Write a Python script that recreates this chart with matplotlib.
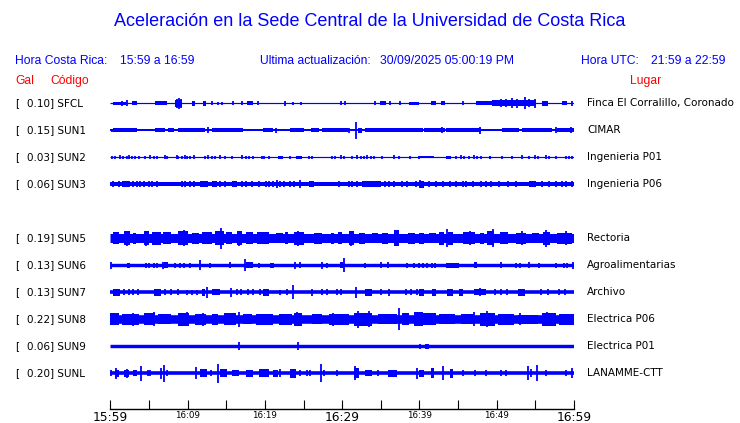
import matplotlib
matplotlib.use('Agg')
import matplotlib.pyplot as plt
from matplotlib import transforms

# Station table
codes = ['SFCL', 'SUN1', 'SUN2', 'SUN3', 'SUN5', 'SUN6', 'SUN7', 'SUN8', 'SUN9', 'SUNL']
gal = [0.10, 0.15, 0.03, 0.06, 0.19, 0.13, 0.13, 0.22, 0.06, 0.20]
places = ['Finca El Corralillo, Coronado', 'CIMAR', 'Ingenieria P01', 'Ingenieria P06',
          'Rectoria', 'Agroalimentarias', 'Archivo', 'Electrica P06', 'Electrica P01',
          'LANAMME-CTT']

# time axis, minutes after 15:59
tick_minutes = list(range(0, 61, 5))
tick_labels = ['15:59', '', '16:09', '', '16:19', '', '16:29', '', '16:39', '', '16:49', '', '16:59']
big_labels = ['15:59', '16:29', '16:59']

# Trace envelopes (half amplitude, screen px)
# base = quiet level, bursts = (start min, end min, half), spikes = (min, half)
base_amp = [0.5, 1.0, 0.5, 2.0, 4.5, 1.7, 1.8, 4.3, 1.7, 1.8]

sfcl_bursts = [(0.3, 2.0, 1.5), (2.8, 3.5, 2), (5.8, 7.4, 2), (8.4, 9.3, 3.5), (10.6, 11.0, 2.5),
               (12.0, 12.4, 2.5), (17.7, 18.4, 2), (34.9, 35.7, 2), (38.7, 40.0, 1.5),
               (41.5, 42.2, 2), (42.8, 43.3, 2), (47.3, 49.4, 2), (49.4, 55.1, 3),
               (55.9, 56.7, 2.5), (58.5, 59.1, 2)]
sfcl_spikes = [(1.5, 2.5), (2.2, 3), (8.6, 4.5), (8.85, 5.5), (9.1, 4.5), (13.2, 2), (13.9, 1.5),
               (14.5, 1.5), (15.9, 2), (17.0, 2), (19.1, 2), (22.6, 2.5), (23.6, 1.5), (24.7, 1.5),
               (29.9, 2), (30.4, 2), (34.3, 2), (36.2, 2), (37.5, 2), (45.6, 2), (50.5, 4),
               (51.2, 4), (52.0, 5), (52.6, 4.5), (53.6, 6), (54.2, 4), (54.9, 4.5), (59.8, 2.5)]

sun1_bursts = [(0.3, 3.5, 2), (5.8, 7.1, 2), (7.5, 8.2, 2), (8.7, 12.3, 2), (13.2, 17.2, 2),
               (19.7, 21.0, 2), (23.2, 25.1, 2), (26.0, 27.0, 2), (27.4, 30.7, 2), (32.0, 32.6, 2.5),
               (33.0, 40.4, 2), (40.6, 43.3, 2), (43.5, 48.0, 2), (50.7, 52.9, 2), (53.3, 57.2, 2),
               (57.8, 60.0, 2)]
sun1_spikes = [(0.2, 1.5), (12.7, 3), (21.5, 2.5), (30.9, 2.5), (31.8, 8.5), (42.9, 3),
               (47.9, 3.5), (57.7, 3), (59.6, 3)]

sun2_bursts = [(21.7, 22.3, 1.5), (24.0, 24.8, 1.5), (40.0, 41.9, 1.2), (43.4, 44.1, 1.5),
               (49.0, 49.2, 1.5)]
sun2_spikes = [(0.2, 1.5), (0.65, 1.5), (1.3, 2), (1.7, 1.5), (2.2, 1.5), (2.4, 2), (2.8, 1.5),
               (3.2, 1.5), (3.7, 1.5), (4.5, 1.5), (5.2, 2), (5.6, 1.5), (6.0, 1.5), (7.1, 2),
               (7.3, 1.5), (8.6, 2), (8.8, 1.5), (9.3, 1.5), (9.7, 2), (9.9, 1.5), (10.3, 1.5),
               (10.8, 2), (12.3, 1.5), (12.7, 2), (13.2, 1.5), (13.6, 1.5), (14.2, 2), (14.9, 1.5),
               (15.7, 1.5), (17.0, 2), (17.5, 1.5), (17.9, 1.5), (18.5, 1.5), (19.6, 1.5),
               (19.9, 1.5), (20.5, 1.5), (23.3, 1.5), (25.7, 1.5), (26.1, 1.5), (28.7, 1.5),
               (29.1, 1.5), (29.8, 2), (30.2, 1.5), (31.3, 1.5), (31.95, 2), (32.4, 1.5),
               (32.8, 1.5), (33.2, 2), (33.7, 1.5), (34.1, 1.5), (35.2, 1.5), (36.7, 2),
               (37.3, 1.5), (38.8, 1.5), (39.9, 1.5), (44.7, 1.5), (45.4, 2), (45.8, 1.5),
               (46.4, 1.5), (47.1, 2), (47.5, 1.5), (48.0, 1.5), (50.7, 1.5), (52.0, 1.5),
               (53.3, 2), (54.2, 1.5), (54.9, 2), (55.3, 1.5), (56.4, 2), (56.8, 1.5), (57.7, 1.5),
               (59.0, 1.5), (59.4, 1.5), (59.8, 1.5)]

sun3_bursts = [(1.5, 2.6, 3), (11.6, 12.7, 3), (13.2, 13.8, 3), (15.7, 16.4, 3), (25.7, 26.4, 3),
               (32.6, 35.0, 3), (40.0, 40.6, 3.5), (54.2, 55.1, 3)]
sun3_spikes = [(0.4, 3), (1.1, 3), (3.0, 3), (3.45, 3), (3.9, 3), (4.3, 3), (4.95, 3), (5.4, 3),
               (6.0, 3), (9.3, 3), (9.7, 3), (10.3, 3), (10.8, 3), (14.2, 3), (14.9, 3), (17.0, 3),
               (17.5, 3), (18.3, 3), (19.2, 3), (20.1, 3), (20.5, 3), (21.0, 3), (21.6, 4),
               (22.0, 3), (22.5, 3), (23.3, 3), (23.8, 3), (24.6, 4), (29.6, 3), (30.9, 3),
               (31.3, 3), (31.95, 3), (35.6, 3), (36.1, 3), (36.7, 3), (37.8, 3), (38.4, 3),
               (39.5, 3), (40.1, 4), (41.3, 3), (42.1, 3), (43.0, 3), (43.9, 3), (44.7, 3),
               (45.6, 3), (46.0, 3), (46.9, 3), (48.0, 3), (48.6, 3), (49.2, 3), (50.3, 3),
               (51.4, 3), (52.5, 3), (55.9, 3), (56.8, 3), (57.7, 3), (58.5, 3), (59.0, 3),
               (59.8, 3)]

sun5_bursts = [(0.3, 1.1, 6), (1.8, 2.6, 7), (3.0, 3.3, 5.5), (4.3, 5.0, 7), (5.4, 6.5, 6.5),
               (6.8, 7.9, 6), (8.7, 10.0, 7), (10.6, 11.5, 5.5), (11.9, 13.2, 6), (13.6, 14.7, 7),
               (15.0, 15.7, 6), (16.4, 17.0, 7), (17.5, 18.4, 6), (19.0, 20.5, 6), (21.4, 22.3, 5),
               (22.6, 23.0, 6), (23.8, 25.1, 6.5), (26.3, 27.4, 5.5), (28.5, 29.0, 5.5),
               (29.5, 30.0, 6), (30.9, 31.5, 7), (32.2, 33.0, 5.5), (33.9, 34.6, 5),
               (35.2, 35.9, 5.5), (36.7, 37.3, 8), (38.5, 39.4, 5.5), (40.0, 40.6, 5.5),
               (41.2, 42.1, 5), (42.5, 43.2, 6.5), (43.7, 44.4, 6.5), (45.6, 47.2, 6),
               (47.8, 48.3, 5.5), (48.8, 49.7, 7), (50.4, 51.4, 6), (52.5, 53.8, 5.5),
               (54.6, 55.5, 5), (56.0, 56.9, 6.5), (57.8, 59.8, 5.5)]
sun5_spikes = [(2.2, 7.5), (4.6, 7.5), (9.5, 8), (14.3, 10.5), (16.7, 7.5), (24.3, 7.5),
               (31.2, 7.5), (37.0, 7.5), (43.6, 9), (46.5, 7), (49.5, 9), (53.3, 7), (56.4, 8.5),
               (59.0, 7)]

sun6_bursts = [(2.2, 2.6, 2.5), (6.9, 7.5, 3), (17.6, 18.4, 3), (20.7, 21.2, 2.5), (29.7, 30.1, 3),
               (43.4, 45.1, 2.3), (47.1, 47.5, 3)]
sun6_spikes = [(0.1, 3.5), (2.4, 2.5), (4.6, 2.5), (5.0, 2.5), (5.6, 2.5), (6.0, 2.5), (6.8, 3.5),
               (8.4, 2.5), (9.0, 2.5), (9.6, 2.5), (10.3, 2.5), (11.6, 5), (12.9, 2.5), (15.5, 3),
               (17.4, 6), (19.2, 2.5), (23.9, 3.5), (24.6, 3), (27.4, 3.5), (28.0, 2.5), (30.3, 7),
               (32.9, 2.5), (35.0, 3), (35.9, 3), (38.4, 2.5), (39.3, 2.5), (40.0, 2.5),
               (40.5, 2.5), (41.0, 2.5), (41.6, 2.5), (42.0, 2.5), (50.6, 3), (52.5, 2.5),
               (53.0, 2.5), (54.2, 3), (55.5, 2.5), (57.7, 2.5), (58.7, 2.5), (59.1, 2.5),
               (59.9, 3.5)]

sun7_bursts = [(0.3, 1.3, 3.5), (5.6, 6.5, 3.5), (11.9, 12.3, 3.5), (13.2, 14.2, 3),
               (19.7, 20.5, 3.5), (33.0, 33.9, 3.5), (40.0, 40.6, 3.5), (41.6, 42.1, 3.5),
               (43.6, 44.3, 3.5), (45.1, 45.7, 3.5), (47.0, 48.6, 3), (52.8, 53.7, 3.5)]
sun7_spikes = [(1.8, 3), (2.4, 3), (3.0, 3), (3.6, 3), (7.1, 3), (7.8, 3), (8.7, 3), (9.9, 2.5),
               (10.6, 2.5), (11.2, 2.5), (12.5, 5.5), (15.6, 4.5), (16.4, 3), (16.9, 3), (17.8, 3),
               (18.5, 3), (19.4, 3), (21.9, 2.5), (22.8, 3), (23.6, 7), (26.1, 3.5), (27.4, 3),
               (28.1, 3), (29.3, 3), (29.8, 3), (31.8, 5.5), (35.0, 3), (36.1, 3.5), (38.3, 3),
               (38.9, 3), (39.7, 3), (47.8, 4), (49.8, 3), (50.6, 3), (51.3, 3), (55.7, 3),
               (56.6, 3), (58.0, 3), (58.9, 3)]

sun8_bursts = [(0.0, 1.1, 6), (1.5, 3.7, 5.5), (4.3, 5.8, 6), (6.2, 7.9, 5), (8.7, 10.2, 6.5),
               (10.9, 12.4, 5.5), (13.2, 14.0, 5.5), (14.7, 16.3, 6), (17.2, 18.3, 5),
               (18.9, 21.0, 5.5), (21.8, 23.5, 5.5), (23.8, 24.8, 6.5), (26.1, 27.4, 5),
               (28.3, 30.9, 5.5), (31.5, 33.9, 6.5), (34.6, 37.1, 5), (37.8, 38.7, 6),
               (39.3, 40.4, 7), (40.4, 42.1, 6), (42.5, 44.6, 5), (45.4, 47.1, 5), (47.8, 49.8, 6.5),
               (50.2, 52.3, 5.5), (52.8, 55.4, 4.5), (55.9, 57.7, 6.5), (58.1, 60.0, 5.5)]
sun8_spikes = [(3.0, 6.5), (5.6, 7), (9.9, 7), (12.0, 6.5), (16.7, 7.5), (24.2, 7), (28.8, 6.5),
               (32.0, 8.5), (33.5, 8), (37.3, 11), (47.1, 7), (48.8, 8), (53.0, 6), (56.5, 7)]

sun9_bursts = [(40.7, 41.3, 2.3)]
sun9_spikes = [(16.7, 4), (24.3, 4), (40.1, 2.5), (41.1, 2.5)]

sunl_bursts = [(0.6, 1.1, 3.5), (1.8, 2.4, 3.5), (3.0, 3.4, 3), (11.6, 12.5, 4), (14.2, 15.1, 4),
               (15.7, 16.6, 3), (17.6, 18.4, 3.5), (19.3, 20.5, 4), (21.0, 21.7, 3.5),
               (23.3, 24.0, 4.5), (31.5, 32.2, 5), (33.0, 33.9, 3), (35.9, 37.1, 3.5),
               (40.0, 40.6, 3.5), (41.5, 41.9, 5), (43.9, 44.3, 4.5)]
sunl_spikes = [(0.1, 3), (0.8, 5.5), (2.2, 4.5), (4.0, 7.5), (4.9, 3), (5.2, 3), (6.5, 5.5),
               (7.0, 8.5), (7.3, 3), (11.1, 6), (13.0, 3), (13.9, 9.5), (22.0, 4), (24.5, 3),
               (25.4, 3), (25.9, 3), (27.2, 9), (27.7, 3), (29.3, 3), (31.7, 7), (34.6, 3),
               (39.7, 5.5), (43.0, 7), (45.6, 3), (47.2, 3), (48.6, 3), (50.5, 3), (51.2, 3),
               (54.0, 7), (54.5, 4), (55.2, 8), (56.4, 3), (59.0, 3), (59.8, 5)]

bursts = [sfcl_bursts, sun1_bursts, sun2_bursts, sun3_bursts, sun5_bursts,
          sun6_bursts, sun7_bursts, sun8_bursts, sun9_bursts, sunl_bursts]
spikes = [sfcl_spikes, sun1_spikes, sun2_spikes, sun3_spikes, sun5_spikes,
          sun6_spikes, sun7_spikes, sun8_spikes, sun9_spikes, sunl_spikes]

BLUE = '#0000ff'
W, H = 740, 423
ROW = 27.0  # px between trace rows
PT = 72.0 / 100  # points per px


def fx(px):
    return px / W


def fy(py):
    return 1 - py / H


fig = plt.figure(figsize=(W / 100, H / 100), dpi=100)
ax = fig.add_axes([fx(110.3), fy(409), fx(574) - fx(110.3), fy(90) - fy(409)])
ax.set_xlim(0, 60)
ax.set_ylim((409 - 103.3) / ROW, (90 - 103.3) / ROW)

# row 4 is left empty (no SUN4)
rows = [i if i < 4 else i + 1 for i in range(len(codes))]

for i, y in enumerate(rows):
    b = base_amp[i]
    ax.hlines(y, 0, 60, color=BLUE, lw=max(2 * b, 1.2) * PT)
    bs = bursts[i]
    ax.bar([t0 for t0, t1, h in bs], [2 * h / ROW for t0, t1, h in bs],
           width=[max(t1 - t0, 0.15) for t0, t1, h in bs],
           bottom=[y - h / ROW for t0, t1, h in bs],
           align='edge', color=BLUE, linewidth=0)
    sp = spikes[i]
    ax.vlines([t for t, h in sp], [y - h / ROW for t, h in sp], [y + h / ROW for t, h in sp],
              color=BLUE, lw=1.3)

for s in ['top', 'left', 'right']:
    ax.spines[s].set_visible(False)
ax.spines['bottom'].set_linewidth(1.0)
ax.set_yticks([])
ax.set_xticks(tick_minutes)
ax.set_xticklabels(tick_labels)
ax.tick_params(axis='x', direction='in', length=6.5, width=0.8, pad=1.2)
for lab in ax.get_xticklabels():
    if lab.get_text() in big_labels:
        lab.set_fontsize(8.8)
    else:
        lab.set_fontsize(6.3)
    lab.set_family('DejaVu Sans')

# station labels
trans = transforms.blended_transform_factory(fig.transFigure, ax.transData)
for i, y in enumerate(rows):
    ax.text(fx(15), y, '[', transform=trans, fontsize=7.5, family='DejaVu Sans',
            va='center', ha='left', clip_on=False)
    ax.text(fx(27), y, f'{gal[i]:.2f}] {codes[i]}', transform=trans, fontsize=7.5,
            family='DejaVu Sans', va='center', ha='left', clip_on=False)
    ax.text(fx(587), y, places[i], transform=trans, fontsize=7.5, family='DejaVu Sans',
            va='center', ha='left', clip_on=False)

# header
hf = 'Liberation Sans'
fig.text(0.5, fy(22), 'Aceleración en la Sede Central de la Universidad de Costa Rica',
         ha='center', va='center', fontsize=13, color=BLUE, family=hf)
fig.text(fx(15), fy(61), 'Hora Costa Rica:', va='center', fontsize=8.7, color=BLUE, family=hf)
fig.text(fx(120), fy(61), '15:59 a 16:59', va='center', fontsize=8.7, color=BLUE, family=hf)
fig.text(fx(260), fy(61), 'Ultima actualización:', va='center', fontsize=8.7, color=BLUE, family=hf)
fig.text(fx(380), fy(61), '30/09/2025 05:00:19 PM', va='center', fontsize=8.7, color=BLUE, family=hf)
fig.text(fx(581), fy(61), 'Hora UTC:', va='center', fontsize=8.7, color=BLUE, family=hf)
fig.text(fx(651), fy(61), '21:59 a 22:59', va='center', fontsize=8.7, color=BLUE, family=hf)
fig.text(fx(15), fy(81), 'Gal', va='center', fontsize=8.7, color='red', family=hf)
fig.text(fx(50), fy(81), 'Código', va='center', fontsize=8.7, color='red', family=hf)
fig.text(fx(630), fy(81), 'Lugar', va='center', fontsize=8.7, color='red', family=hf)

fig.savefig('out.png', dpi=100)
